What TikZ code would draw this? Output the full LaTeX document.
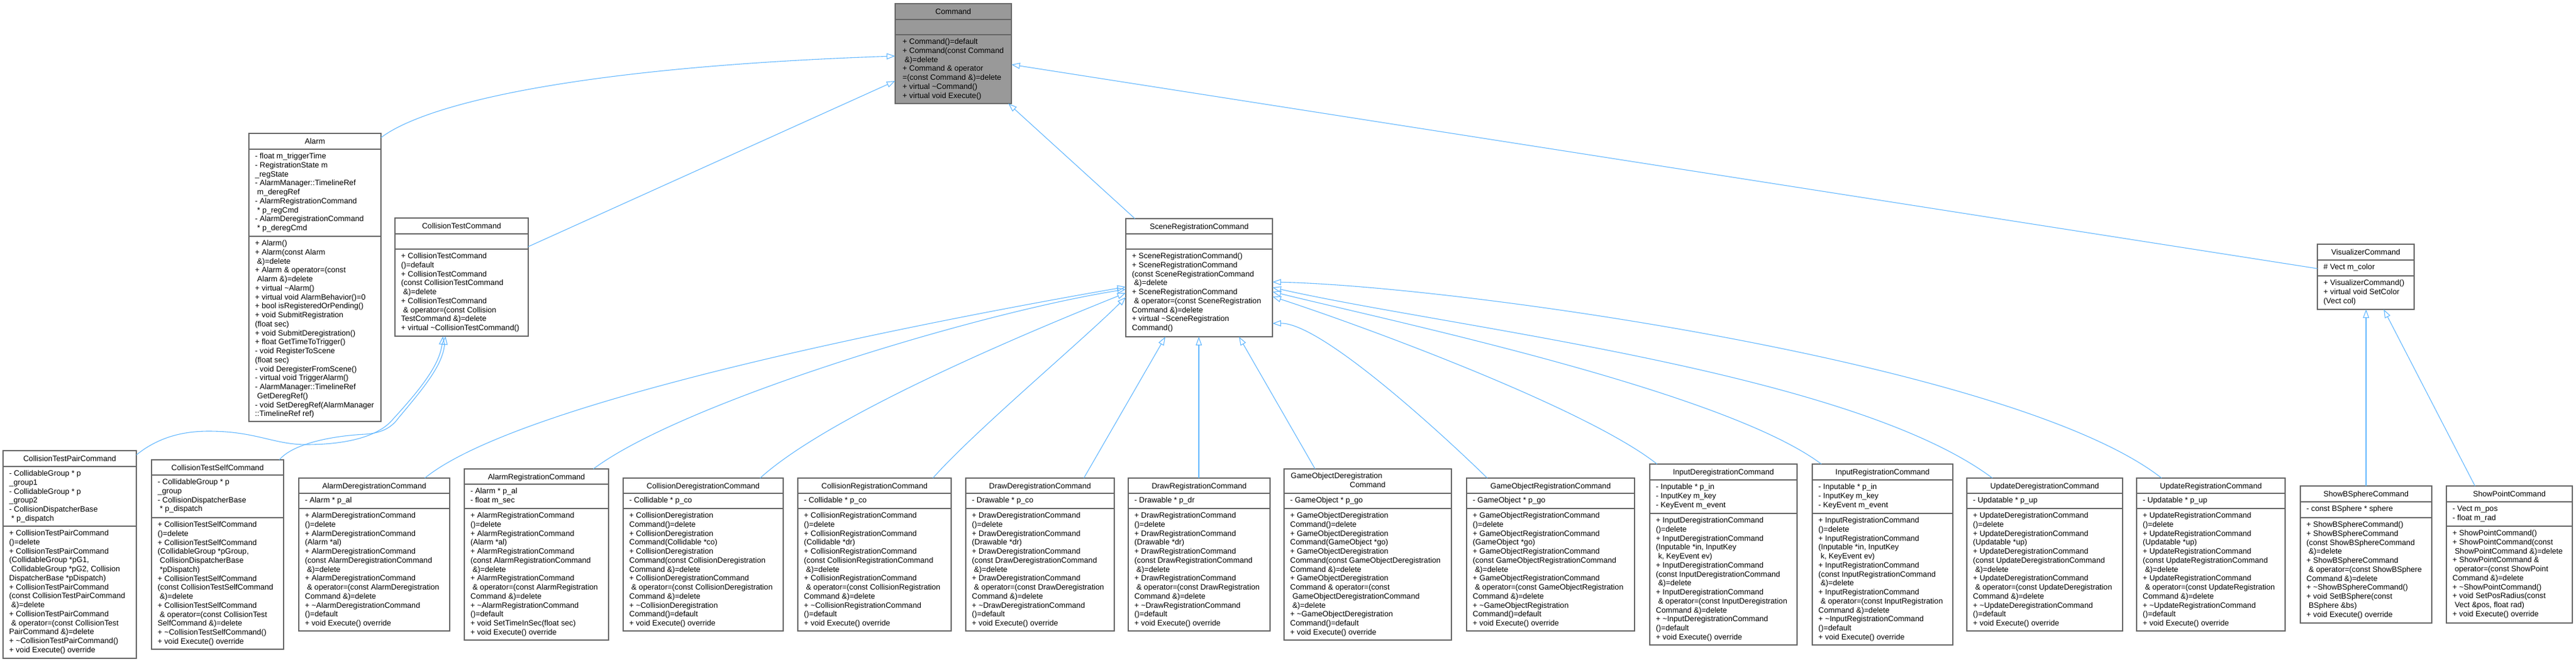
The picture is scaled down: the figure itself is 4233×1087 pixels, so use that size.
\documentclass[tikz,border=0pt]{standalone}
\usepackage{fontspec}
\setmainfont{Liberation Sans}
\usetikzlibrary{arrows.meta,calc,fit}
\definecolor{edgeblue}{HTML}{63B8FF}
\definecolor{boxborder}{HTML}{666666}
\definecolor{cmdfill}{HTML}{999999}
\newcommand\umlfont{\fontsize{12.7}{14.75}\selectfont}
\newcommand\tld{\textasciitilde}
\tikzset{
  umlframe/.style={draw=boxborder, line width=1.3pt, inner sep=0pt, outer sep=0pt, rectangle},
  sepline/.style={draw=boxborder, line width=1.3pt},
  umltitle/.style={inner sep=0pt, anchor=base, font=\umlfont},
  umltxt/.style={inner sep=0pt, anchor=north west, align=left, font=\umlfont},
  inh/.style={draw=edgeblue, line width=1.1pt, -{Triangle[open, length=14pt, width=10pt]}},
}
% #1 fill, #2 name, #3 x1, #4 y1, #5 x2, #6 header end, #7 attr end, #8 y2
\newcommand\umlbox[8][white]{%
  \node[umlframe, fill=#1, fit={(#3,#4) (#5,#8)}] (#2) {};
  \draw[sepline] (#3,#6) -- (#5,#6) (#3,#7) -- (#5,#7);
}
% #1 name, #2 x1, #3 y1, #4 x2, #5 header end, #6 title
\newcommand\umlname[6]{%
  \node[umltitle] (#1) at ({(#2+#4)/2}, {(#3+#5)/2+4.6}) {#6};
}
% #1 name, #2 x1, #3 separator y, #4 text
\newcommand\umllines[4]{%
  \node[umltxt] (#1) at (#2+10, #3+5.2) {\strut #4};
}
\begin{document}
\begin{tikzpicture}[x=1pt,y=-1pt]
\path[use as bounding box, fill=white] (0,0) rectangle (4233,1087);

% ---------- Command ----------
\umlbox[cmdfill]{cmd}{1471}{6}{1662}{32}{57}{170}
\umlname{cmd-t}{1471}{6}{1662}{32}{Command}
\umllines{cmd-m}{1473}{57}{+ Command()=default\\+ Command(const Command\\\ \&)=delete\\+ Command \& operator\\=(const Command \&)=delete\\+ virtual \tld Command()\\+ virtual void Execute()}

% ---------- Alarm ----------
\umlbox{alarm}{409}{219}{626}{245}{388}{692}
\umlname{alarm-t}{409}{219}{626}{245}{Alarm}
\umllines{alarm-a}{409}{245}{- float m\_triggerTime\\- RegistrationState m\\\_regState\\- AlarmManager::TimelineRef\\\ m\_deregRef\\- AlarmRegistrationCommand\\\ * p\_regCmd\\- AlarmDeregistrationCommand\\\ * p\_deregCmd}
\umllines{alarm-m}{409}{388}{+ Alarm()\\+ Alarm(const Alarm\\\ \&)=delete\\+ Alarm \& operator=(const\\\ Alarm \&)=delete\\+ virtual \tld Alarm()\\+ virtual void AlarmBehavior()=0\\+ bool isRegisteredOrPending()\\+ void SubmitRegistration\\(float sec)\\+ void SubmitDeregistration()\\+ float GetTimeToTrigger()\\- void RegisterToScene\\(float sec)\\- void DeregisterFromScene()\\- virtual void TriggerAlarm()\\- AlarmManager::TimelineRef\\\ GetDeregRef()\\- void SetDeregRef(AlarmManager\\::TimelineRef ref)}

% ---------- CollisionTestCommand ----------
\umlbox{ctc}{649}{358}{868}{384}{409}{552}
\umlname{ctc-t}{649}{358}{868}{384}{CollisionTestCommand}
\umllines{ctc-m}{649}{409}{+ CollisionTestCommand\\()=default\\+ CollisionTestCommand\\(const CollisionTestCommand\\\ \&)=delete\\+ CollisionTestCommand\\\ \& operator=(const Collision\\TestCommand \&)=delete\\+ virtual \tld CollisionTestCommand()}

% ---------- SceneRegistrationCommand ----------
\umlbox{srg}{1850}{359}{2091}{384}{409}{553}
\umlname{srg-t}{1850}{359}{2091}{384}{SceneRegistrationCommand}
\umllines{srg-m}{1850}{409}{+ SceneRegistrationCommand()\\+ SceneRegistrationCommand\\(const SceneRegistrationCommand\\\ \&)=delete\\+ SceneRegistrationCommand\\\ \& operator=(const SceneRegistration\\Command \&)=delete\\+ virtual \tld SceneRegistration\\Command()}

% ---------- VisualizerCommand ----------
\umlbox{vis}{3808}{401}{3967}{427}{453}{508}
\umlname{vis-t}{3808}{401}{3967}{427}{VisualizerCommand}
\umllines{vis-a}{3808}{427}{\# Vect m\_color}
\umllines{vis-m}{3808}{453}{+ VisualizerCommand()\\+ virtual void SetColor\\(Vect col)}

% ---------- CollisionTestPairCommand ----------
\umlbox{ctpair}{5}{740}{224}{766}{864}{1081}
\umlname{ctpair-t}{5}{740}{224}{766}{CollisionTestPairCommand}
\umllines{ctpair-a}{5}{766}{- CollidableGroup * p\\\_group1\\- CollidableGroup * p\\\_group2\\- CollisionDispatcherBase\\\ * p\_dispatch}
\umllines{ctpair-m}{5}{864}{+ CollisionTestPairCommand\\()=delete\\+ CollisionTestPairCommand\\(CollidableGroup *pG1,\\\ CollidableGroup *pG2, Collision\\DispatcherBase *pDispatch)\\+ CollisionTestPairCommand\\(const CollisionTestPairCommand\\\ \&)=delete\\+ CollisionTestPairCommand\\\ \& operator=(const CollisionTest\\PairCommand \&)=delete\\+ \tld CollisionTestPairCommand()\\+ void Execute() override}

% ---------- CollisionTestSelfCommand ----------
\umlbox{ctself}{249}{755}{466}{780}{850}{1066}
\umlname{ctself-t}{249}{755}{466}{780}{CollisionTestSelfCommand}
\umllines{ctself-a}{249}{780}{- CollidableGroup * p\\\_group\\- CollisionDispatcherBase\\\ * p\_dispatch}
\umllines{ctself-m}{249}{850}{+ CollisionTestSelfCommand\\()=delete\\+ CollisionTestSelfCommand\\(CollidableGroup *pGroup,\\\ CollisionDispatcherBase\\\ *pDispatch)\\+ CollisionTestSelfCommand\\(const CollisionTestSelfCommand\\\ \&)=delete\\+ CollisionTestSelfCommand\\\ \& operator=(const CollisionTest\\SelfCommand \&)=delete\\+ \tld CollisionTestSelfCommand()\\+ void Execute() override}

% ---------- AlarmDeregistrationCommand ----------
\umlbox{aldereg}{491}{785}{739}{810}{835}{1036}
\umlname{aldereg-t}{491}{785}{739}{810}{AlarmDeregistrationCommand}
\umllines{aldereg-a}{491}{810}{- Alarm * p\_al}
\umllines{aldereg-m}{491}{835}{+ AlarmDeregistrationCommand\\()=delete\\+ AlarmDeregistrationCommand\\(Alarm *al)\\+ AlarmDeregistrationCommand\\(const AlarmDeregistrationCommand\\\ \&)=delete\\+ AlarmDeregistrationCommand\\\ \& operator=(const AlarmDeregistration\\Command \&)=delete\\+ \tld AlarmDeregistrationCommand\\()=default\\+ void Execute() override}

% ---------- AlarmRegistrationCommand ----------
\umlbox{alreg}{763}{770}{1000}{795}{835}{1051}
\umlname{alreg-t}{763}{770}{1000}{795}{AlarmRegistrationCommand}
\umllines{alreg-a}{763}{795}{- Alarm * p\_al\\- float m\_sec}
\umllines{alreg-m}{763}{835}{+ AlarmRegistrationCommand\\()=delete\\+ AlarmRegistrationCommand\\(Alarm *al)\\+ AlarmRegistrationCommand\\(const AlarmRegistrationCommand\\\ \&)=delete\\+ AlarmRegistrationCommand\\\ \& operator=(const AlarmRegistration\\Command \&)=delete\\+ \tld AlarmRegistrationCommand\\()=default\\+ void SetTimeInSec(float sec)\\+ void Execute() override}

% ---------- CollisionDeregistrationCommand ----------
\umlbox{coldereg}{1024}{785}{1287}{810}{835}{1036}
\umlname{coldereg-t}{1024}{785}{1287}{810}{CollisionDeregistrationCommand}
\umllines{coldereg-a}{1024}{810}{- Collidable * p\_co}
\umllines{coldereg-m}{1024}{835}{+ CollisionDeregistration\\Command()=delete\\+ CollisionDeregistration\\Command(Collidable *co)\\+ CollisionDeregistration\\Command(const CollisionDeregistration\\Command \&)=delete\\+ CollisionDeregistrationCommand\\\ \& operator=(const CollisionDeregistration\\Command \&)=delete\\+ \tld CollisionDeregistration\\Command()=default\\+ void Execute() override}

% ---------- CollisionRegistrationCommand ----------
\umlbox{colreg}{1311}{785}{1563}{810}{835}{1036}
\umlname{colreg-t}{1311}{785}{1563}{810}{CollisionRegistrationCommand}
\umllines{colreg-a}{1311}{810}{- Collidable * p\_co}
\umllines{colreg-m}{1311}{835}{+ CollisionRegistrationCommand\\()=delete\\+ CollisionRegistrationCommand\\(Collidable *dr)\\+ CollisionRegistrationCommand\\(const CollisionRegistrationCommand\\\ \&)=delete\\+ CollisionRegistrationCommand\\\ \& operator=(const CollisionRegistration\\Command \&)=delete\\+ \tld CollisionRegistrationCommand\\()=default\\+ void Execute() override}

% ---------- DrawDeregistrationCommand ----------
\umlbox{drawdereg}{1587}{785}{1831}{810}{835}{1036}
\umlname{drawdereg-t}{1587}{785}{1831}{810}{DrawDeregistrationCommand}
\umllines{drawdereg-a}{1587}{810}{- Drawable * p\_co}
\umllines{drawdereg-m}{1587}{835}{+ DrawDeregistrationCommand\\()=delete\\+ DrawDeregistrationCommand\\(Drawable *dr)\\+ DrawDeregistrationCommand\\(const DrawDeregistrationCommand\\\ \&)=delete\\+ DrawDeregistrationCommand\\\ \& operator=(const DrawDeregistration\\Command \&)=delete\\+ \tld DrawDeregistrationCommand\\()=default\\+ void Execute() override}

% ---------- DrawRegistrationCommand ----------
\umlbox{drawreg}{1854}{785}{2087}{810}{835}{1036}
\umlname{drawreg-t}{1854}{785}{2087}{810}{DrawRegistrationCommand}
\umllines{drawreg-a}{1854}{810}{- Drawable * p\_dr}
\umllines{drawreg-m}{1854}{835}{+ DrawRegistrationCommand\\()=delete\\+ DrawRegistrationCommand\\(Drawable *dr)\\+ DrawRegistrationCommand\\(const DrawRegistrationCommand\\\ \&)=delete\\+ DrawRegistrationCommand\\\ \& operator=(const DrawRegistration\\Command \&)=delete\\+ \tld DrawRegistrationCommand\\()=default\\+ void Execute() override}

% ---------- GameObjectDeregistrationCommand ----------
\umlbox{godereg}{2110}{770}{2385}{810}{835}{1051}
\node[umltitle, anchor=base west] (godereg-t1) at (2121,785.6) {GameObjectDeregistration};
\node[umltitle] (godereg-t2) at (2247.5,800.4) {Command};
\umllines{godereg-a}{2110}{810}{- GameObject * p\_go}
\umllines{godereg-m}{2110}{835}{+ GameObjectDeregistration\\Command()=delete\\+ GameObjectDeregistration\\Command(GameObject *go)\\+ GameObjectDeregistration\\Command(const GameObjectDeregistration\\Command \&)=delete\\+ GameObjectDeregistration\\Command \& operator=(const\\\ GameObjectDeregistrationCommand\\\ \&)=delete\\+ \tld GameObjectDeregistration\\Command()=default\\+ void Execute() override}

% ---------- GameObjectRegistrationCommand ----------
\umlbox{goreg}{2410}{785}{2686}{810}{835}{1036}
\umlname{goreg-t}{2410}{785}{2686}{810}{GameObjectRegistrationCommand}
\umllines{goreg-a}{2410}{810}{- GameObject * p\_go}
\umllines{goreg-m}{2410}{835}{+ GameObjectRegistrationCommand\\()=delete\\+ GameObjectRegistrationCommand\\(GameObject *go)\\+ GameObjectRegistrationCommand\\(const GameObjectRegistrationCommand\\\ \&)=delete\\+ GameObjectRegistrationCommand\\\ \& operator=(const GameObjectRegistration\\Command \&)=delete\\+ \tld GameObjectRegistration\\Command()=default\\+ void Execute() override}

% ---------- InputDeregistrationCommand ----------
\umlbox{indereg}{2711}{762}{2953}{788}{843}{1059}
\umlname{indereg-t}{2711}{762}{2953}{788}{InputDeregistrationCommand}
\umllines{indereg-a}{2711}{788}{- Inputable * p\_in\\- InputKey m\_key\\- KeyEvent m\_event}
\umllines{indereg-m}{2711}{843}{+ InputDeregistrationCommand\\()=delete\\+ InputDeregistrationCommand\\(Inputable *in, InputKey\\\ k, KeyEvent ev)\\+ InputDeregistrationCommand\\(const InputDeregistrationCommand\\\ \&)=delete\\+ InputDeregistrationCommand\\\ \& operator=(const InputDeregistration\\Command \&)=delete\\+ \tld InputDeregistrationCommand\\()=default\\+ void Execute() override}

% ---------- InputRegistrationCommand ----------
\umlbox{inreg}{2978}{762}{3209}{788}{843}{1059}
\umlname{inreg-t}{2978}{762}{3209}{788}{InputRegistrationCommand}
\umllines{inreg-a}{2978}{788}{- Inputable * p\_in\\- InputKey m\_key\\- KeyEvent m\_event}
\umllines{inreg-m}{2978}{843}{+ InputRegistrationCommand\\()=delete\\+ InputRegistrationCommand\\(Inputable *in, InputKey\\\ k, KeyEvent ev)\\+ InputRegistrationCommand\\(const InputRegistrationCommand\\\ \&)=delete\\+ InputRegistrationCommand\\\ \& operator=(const InputRegistration\\Command \&)=delete\\+ \tld InputRegistrationCommand\\()=default\\+ void Execute() override}

% ---------- UpdateDeregistrationCommand ----------
\umlbox{updereg}{3232}{785}{3488}{810}{835}{1036}
\umlname{updereg-t}{3232}{785}{3488}{810}{UpdateDeregistrationCommand}
\umllines{updereg-a}{3232}{810}{- Updatable * p\_up}
\umllines{updereg-m}{3232}{835}{+ UpdateDeregistrationCommand\\()=delete\\+ UpdateDeregistrationCommand\\(Updatable *up)\\+ UpdateDeregistrationCommand\\(const UpdateDeregistrationCommand\\\ \&)=delete\\+ UpdateDeregistrationCommand\\\ \& operator=(const UpdateDeregistration\\Command \&)=delete\\+ \tld UpdateDeregistrationCommand\\()=default\\+ void Execute() override}

% ---------- UpdateRegistrationCommand ----------
\umlbox{upreg}{3511}{785}{3755}{810}{835}{1036}
\umlname{upreg-t}{3511}{785}{3755}{810}{UpdateRegistrationCommand}
\umllines{upreg-a}{3511}{810}{- Updatable * p\_up}
\umllines{upreg-m}{3511}{835}{+ UpdateRegistrationCommand\\()=delete\\+ UpdateRegistrationCommand\\(Updatable *up)\\+ UpdateRegistrationCommand\\(const UpdateRegistrationCommand\\\ \&)=delete\\+ UpdateRegistrationCommand\\\ \& operator=(const UpdateRegistration\\Command \&)=delete\\+ \tld UpdateRegistrationCommand\\()=default\\+ void Execute() override}

% ---------- ShowBSphereCommand ----------
\umlbox{showbs}{3780}{798}{3996}{824}{850}{1023}
\umlname{showbs-t}{3780}{798}{3996}{824}{ShowBSphereCommand}
\umllines{showbs-a}{3780}{824}{- const BSphere * sphere}
\umllines{showbs-m}{3780}{850}{+ ShowBSphereCommand()\\+ ShowBSphereCommand\\(const ShowBSphereCommand\\\ \&)=delete\\+ ShowBSphereCommand\\\ \& operator=(const ShowBSphere\\Command \&)=delete\\+ \tld ShowBSphereCommand()\\+ void SetBSphere(const\\\ BSphere \&bs)\\+ void Execute() override}

% ---------- ShowPointCommand ----------
\umlbox{showpt}{4020}{798}{4227}{824}{864}{1023}
\umlname{showpt-t}{4020}{798}{4227}{824}{ShowPointCommand}
\umllines{showpt-a}{4020}{824}{- Vect m\_pos\\- float m\_rad}
\umllines{showpt-m}{4020}{864}{+ ShowPointCommand()\\+ ShowPointCommand(const\\\ ShowPointCommand \&)=delete\\+ ShowPointCommand \&\\\ operator=(const ShowPoint\\Command \&)=delete\\+ \tld ShowPointCommand()\\+ void SetPosRadius(const\\\ Vect \&pos, float rad)\\+ void Execute() override}

% ================= inheritance connectors =================
\draw[inh] ($(alarm.north east)+(0,7)$) .. controls (700,170) and (950,110) .. ($(cmd.north west)+(0,86)$);
\draw[inh] ($(ctc.north east)+(0,47)$) -- ($(cmd.north west)+(0,127)$);
\draw[inh] ($(srg.north west)+(15,0)$) -- ($(cmd.south east)+(-5,0)$);
\draw[inh] ($(vis.north west)+(0,40)$) -- ($(cmd.north east)+(0,100)$);

\draw[inh] ($(ctpair.north east)+(0,7)$) .. controls (260,718) and (300,708) .. (343,708) .. controls (420,708) and (450,730) .. (503,730) .. controls (560,730) and (620,720) .. (646,688) .. controls (690,640) and (722,600) .. ($(ctc.south west)+(79,0)$);
\draw[inh] ($(ctself.north east)+(-7,0)$) .. controls (480,730) and (540,716) .. (600,713) .. controls (630,711) and (645,700) .. (655,686) .. controls (697,636) and (727,600) .. ($(ctc.south west)+(83,0)$);

\draw[inh] ($(aldereg.north west)+(207,0)$) .. controls (853,659) and (1505,531) .. ($(srg.north west)+(0,112)$);
\draw[inh] ($(alreg.north west)+(212,0)$) .. controls (1119,662) and (1600,515) .. ($(srg.north west)+(0,116)$);
\draw[inh] ($(coldereg.north west)+(225,0)$) .. controls (1367,678) and (1710,537) .. ($(srg.north west)+(0,122)$);
\draw[inh] ($(colreg.north west)+(222,0)$) .. controls (1599,710) and (1780,558) .. ($(srg.north west)+(0,129)$);
\draw[inh] ($(drawdereg.north west)+(194,0)$) -- ($(srg.south west)+(65,0)$);
\draw[inh] ($(drawreg.north west)+(116,0)$) -- ($(srg.south west)+(120,0)$);
\draw[inh] ($(godereg.north west)+(51,0)$) -- ($(srg.south west)+(186,0)$);
\draw[inh] ($(goreg.north west)+(34,0)$) .. controls (2364,707) and (2170,530) .. ($(srg.south east)+(0,-22)$);
\draw[inh] ($(indereg.north west)+(12,0)$) .. controls (2605,669) and (2233,533) .. ($(srg.north east)+(0,128)$);
\draw[inh] ($(inreg.north west)+(15,0)$) .. controls (2833,642) and (2285,527) .. ($(srg.north east)+(0,120)$);
\draw[inh] ($(updereg.north west)+(42,0)$) .. controls (3040,610) and (2382,538) .. ($(srg.north east)+(0,113)$);
\draw[inh] ($(upreg.north west)+(41,0)$) .. controls (3315,599) and (2400,470) .. ($(srg.north east)+(0,104)$);

\draw[inh] ($(showbs.north west)+(108,0)$) -- ($(vis.south west)+(80,0)$);
\draw[inh] ($(showpt.north west)+(47,0)$) -- ($(vis.south west)+(109,0)$);
\end{tikzpicture}
\end{document}
